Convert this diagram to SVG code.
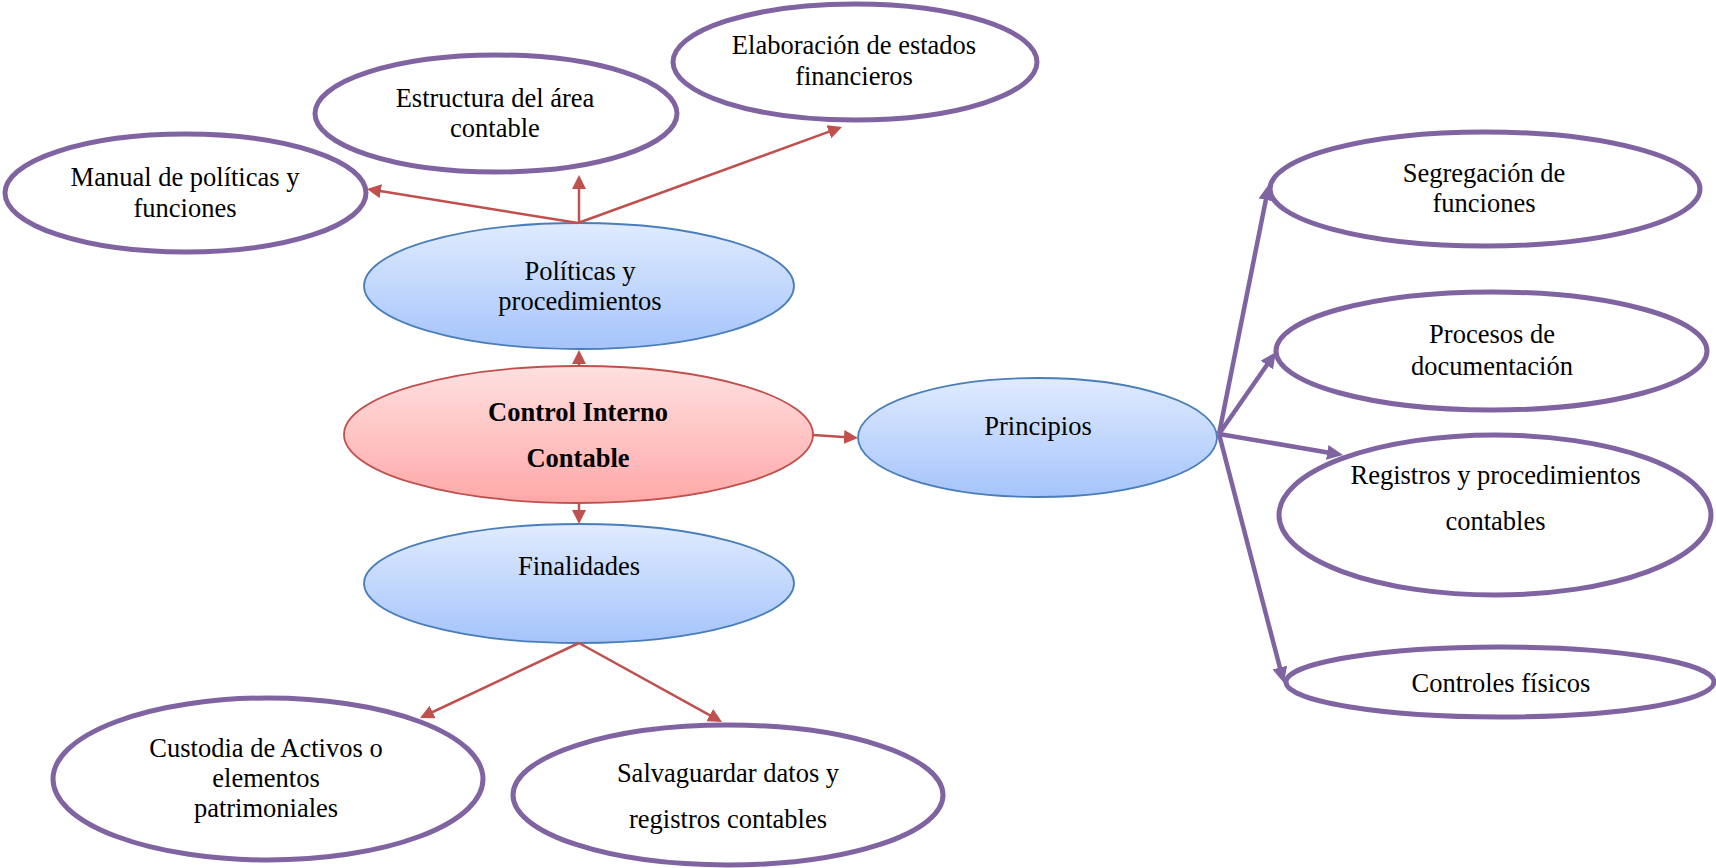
<svg xmlns="http://www.w3.org/2000/svg" width="1716" height="868" viewBox="0 0 1716 868">
  <style>
    .leaf { fill: #ffffff; stroke: #8064A2; stroke-width: 5; }
    .blue { fill: url(#gBlue); stroke: #4A7EBB; stroke-width: 1.8; }
    .core { fill: url(#gRed); stroke: #C0504D; stroke-width: 1.8; }
    .lbl { font-family: "Liberation Serif", "Times New Roman", serif; font-size: 26.5px; fill: #000; text-anchor: middle; }
    .bold { font-weight: bold; }
    .red { fill: none; stroke: #C0504D; stroke-width: 2.5; marker-end: url(#headRed); }
    .purple { fill: none; stroke: #8064A2; stroke-width: 4.5; marker-end: url(#headPurple); }
  </style>
  <defs>
    <linearGradient id="gBlue" x1="0" y1="0" x2="0" y2="1">
      <stop offset="0" stop-color="#e0ebfe"/>
      <stop offset="1" stop-color="#a5c4fb"/>
    </linearGradient>
    <linearGradient id="gRed" x1="0" y1="0" x2="0" y2="1">
      <stop offset="0" stop-color="#ffe0e0"/>
      <stop offset="1" stop-color="#ffa8a8"/>
    </linearGradient>
    <marker id="headRed" markerUnits="userSpaceOnUse" markerWidth="14" markerHeight="14" viewBox="0 0 14 14" refX="7" refY="7" orient="auto">
      <path d="M0,0 L14,7 L0,14 z" fill="#C0504D"/>
    </marker>
    <marker id="headPurple" markerUnits="userSpaceOnUse" markerWidth="16" markerHeight="15" viewBox="0 0 16 15" refX="8" refY="7.5" orient="auto">
      <path d="M0,0 L16,7.5 L0,15 z" fill="#8064A2"/>
    </marker>
  </defs>

  <rect width="1716" height="868" fill="#ffffff"/>

  <g id="manual">
    <ellipse class="leaf" cx="185.5" cy="193" rx="180.5" ry="59"/>
    <text class="lbl" x="185" y="186">Manual de políticas y</text>
    <text class="lbl" x="185" y="217">funciones</text>
  </g>
  <g id="estructura">
    <ellipse class="leaf" cx="496" cy="113.5" rx="181" ry="58.5"/>
    <text class="lbl" x="495" y="107">Estructura del área</text>
    <text class="lbl" x="495" y="137">contable</text>
  </g>
  <g id="elaboracion">
    <ellipse class="leaf" cx="855" cy="62" rx="182" ry="58"/>
    <text class="lbl" x="854" y="53.5">Elaboración de estados</text>
    <text class="lbl" x="854" y="85">financieros</text>
  </g>
  <g id="politicas">
    <ellipse class="blue" cx="579" cy="286" rx="215" ry="63"/>
    <text class="lbl" x="580" y="280">Políticas y</text>
    <text class="lbl" x="580" y="310">procedimientos</text>
  </g>
  <g id="control-interno">
    <ellipse class="core" cx="578.5" cy="434.5" rx="234.5" ry="68.5"/>
    <text class="lbl bold" x="578" y="420.7">Control Interno</text>
    <text class="lbl bold" x="578" y="466.7">Contable</text>
  </g>
  <g id="finalidades">
    <ellipse class="blue" cx="579" cy="583.5" rx="215" ry="59.5"/>
    <text class="lbl" x="579" y="575">Finalidades</text>
  </g>
  <g id="principios">
    <ellipse class="blue" cx="1037.5" cy="437.5" rx="179.5" ry="59.5"/>
    <text class="lbl" x="1038" y="435">Principios</text>
  </g>
  <g id="custodia">
    <ellipse class="leaf" cx="268" cy="779" rx="215" ry="81"/>
    <text class="lbl" x="266" y="757">Custodia de Activos o</text>
    <text class="lbl" x="266" y="787">elementos</text>
    <text class="lbl" x="266" y="817">patrimoniales</text>
  </g>
  <g id="salvaguardar">
    <ellipse class="leaf" cx="728" cy="795" rx="215" ry="70"/>
    <text class="lbl" x="728" y="782">Salvaguardar datos y</text>
    <text class="lbl" x="728" y="828">registros contables</text>
  </g>
  <g id="segregacion">
    <ellipse class="leaf" cx="1485" cy="189" rx="215" ry="57"/>
    <text class="lbl" x="1484" y="182">Segregación de</text>
    <text class="lbl" x="1484" y="212">funciones</text>
  </g>
  <g id="procesos">
    <ellipse class="leaf" cx="1491.5" cy="351" rx="215.5" ry="59"/>
    <text class="lbl" x="1492" y="343">Procesos de</text>
    <text class="lbl" x="1492" y="375">documentación</text>
  </g>
  <g id="registros">
    <ellipse class="leaf" cx="1495" cy="515" rx="216" ry="80"/>
    <text class="lbl" x="1495.5" y="484">Registros y procedimientos</text>
    <text class="lbl" x="1495.5" y="530">contables</text>
  </g>
  <g id="controles">
    <ellipse class="leaf" cx="1500" cy="682" rx="214" ry="35"/>
    <text class="lbl" x="1501" y="692">Controles físicos</text>
  </g>

  <g id="connectors">
    <path class="red" d="M578,223 L373.9,190.1"/>
    <path class="red" d="M579,223 L579,182"/>
    <path class="red" d="M578,223 L835.4,129.4"/>
    <path class="red" d="M579,366 L579,357"/>
    <path class="red" d="M579,503 L579,517"/>
    <path class="red" d="M813,435 L851,437.5"/>
    <path class="red" d="M579,643 L426.3,715"/>
    <path class="red" d="M579,643 L715.9,718.6"/>
    <path class="purple" d="M1219,434 L1267.4,192.1"/>
    <path class="purple" d="M1219,434 L1271.4,358.5"/>
    <path class="purple" d="M1219,434 L1335.1,453.7"/>
    <path class="purple" d="M1219,434 L1281.9,675.3"/>
  </g>
</svg>
